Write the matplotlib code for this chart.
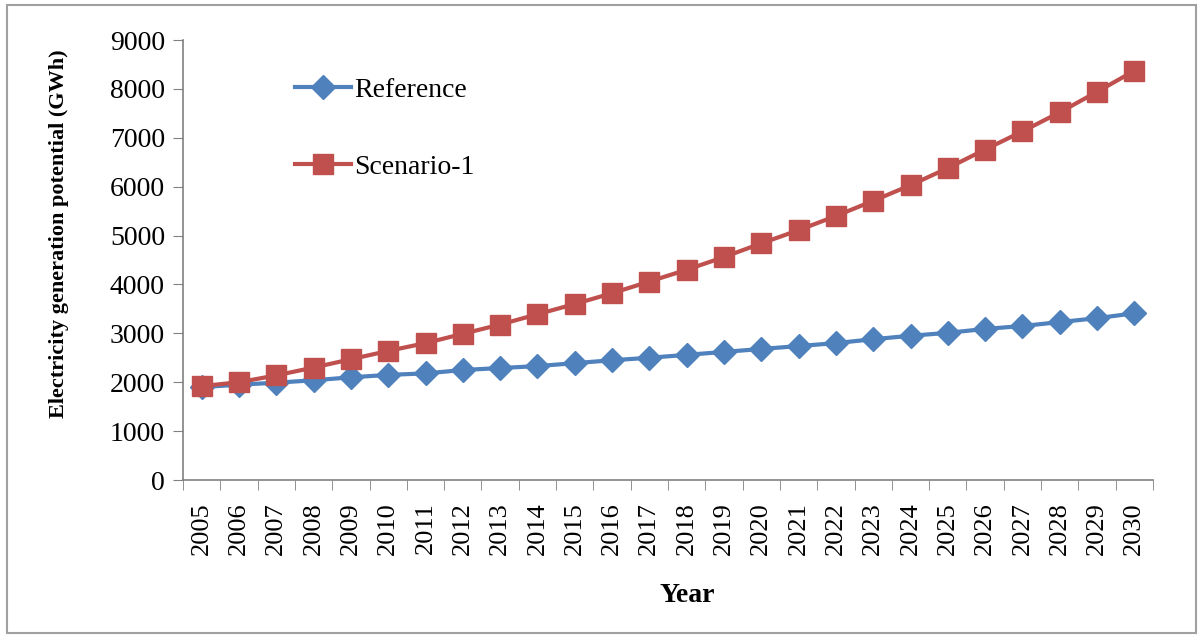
import matplotlib.pyplot as plt
from matplotlib.patches import Rectangle

years = [str(y) for y in range(2005, 2031)]
reference = [1900, 1950, 1990, 2040, 2100, 2150, 2180, 2250, 2290, 2330, 2390, 2450,
             2500, 2560, 2620, 2680, 2740, 2800, 2880, 2950, 3010, 3090, 3150, 3230,
             3310, 3410]
scenario1 = [1920, 2000, 2140, 2300, 2470, 2640, 2800, 2990, 3180, 3390, 3600, 3820,
             4060, 4300, 4560, 4840, 5110, 5400, 5710, 6030, 6380, 6760, 7130, 7520,
             7940, 8370]

plt.rcParams['font.family'] = ['Liberation Serif', 'DejaVu Serif']

fig = plt.figure(figsize=(12.03, 6.37), dpi=100)
# marco gris alrededor de la figura
fig.patches.append(Rectangle((0.006, 0.006), 0.988, 0.986, transform=fig.transFigure,
                             fill=False, edgecolor='#a0a0a0', linewidth=1.5))
ax = fig.add_axes([183/1203, 1 - 480/637, (1153-183)/1203, (480-40)/637])

x = list(range(len(years)))
ax.plot(x, reference, color='#4F81BD', linewidth=3, marker='D', markersize=12,
        label='Reference')
ax.plot(x, scenario1, color='#C0504D', linewidth=3, marker='s', markersize=14,
        label='Scenario-1')

ax.set_xlim(-0.5, len(years) - 0.5)
ax.set_ylim(0, 9000)
ax.set_yticks(range(0, 9001, 1000))
ax.set_xticks(x)
ax.set_xticklabels(years, rotation=90, fontsize=19)
ax.set_xticks([i - 0.5 for i in range(len(years) + 1)], minor=True)
ax.tick_params(axis='x', which='major', length=0, pad=16)
ax.tick_params(axis='x', which='minor', length=7, color='#808080')
ax.tick_params(axis='y', length=7, color='#808080', labelsize=20, pad=6)

for s in ['top', 'right']:
    ax.spines[s].set_visible(False)
for s in ['left', 'bottom']:
    ax.spines[s].set_color('#808080')
    ax.spines[s].set_linewidth(1.2)

ax.set_xlabel('Year', fontsize=20, fontweight='bold')
ax.xaxis.set_label_coords(0.52, -0.235)
ax.set_ylabel('Electricity generation potential (GWh)', fontsize=16, fontweight='bold')
ax.yaxis.set_label_coords(-0.118, 0.56)

ax.legend(loc='upper left', bbox_to_anchor=(0.09, 0.972), frameon=False, fontsize=20,
          labelspacing=1.85, handlelength=2.0, handletextpad=0.12)

plt.savefig('out.png', dpi=100)
